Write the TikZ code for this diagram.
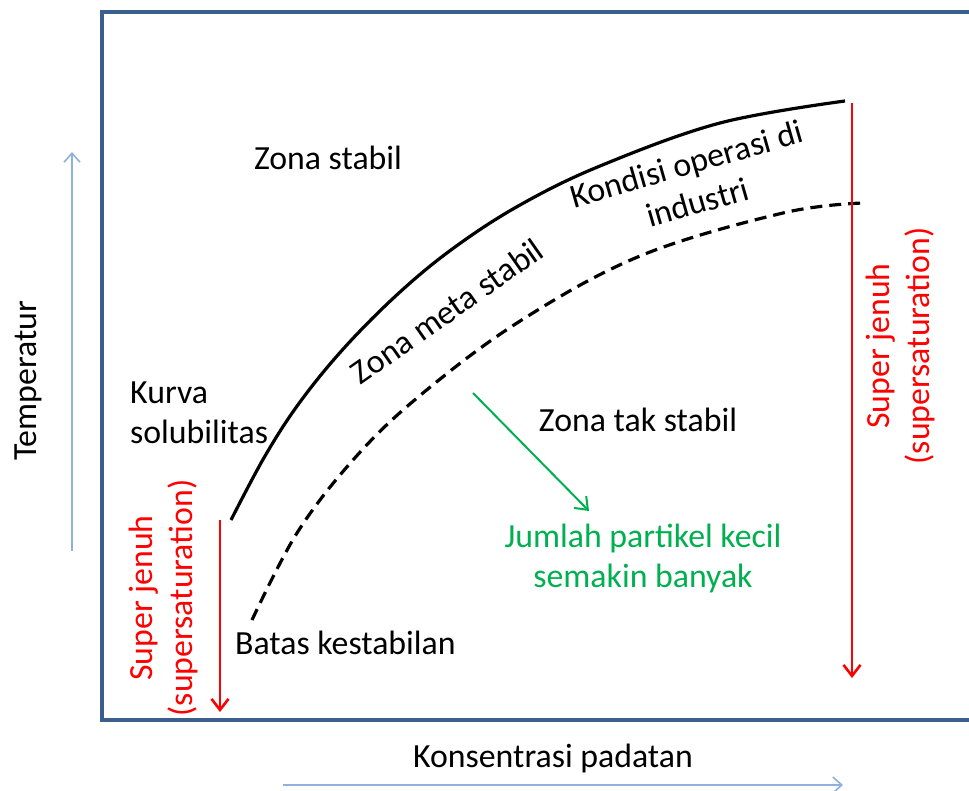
\documentclass[tikz,border=0pt]{standalone}
\usepackage{fontspec}
\setmainfont{Carlito}
\usetikzlibrary{arrows.meta}
\definecolor{frameblue}{HTML}{3B5F8C}
\definecolor{axisblue}{HTML}{8FB1DB}
\definecolor{supred}{HTML}{FF0000}
\definecolor{zonegreen}{HTML}{00B050}
\begin{document}
\begin{tikzpicture}[x=1pt,y=-1pt,
  every node/.style={font=\fontsize{33.8}{40}\selectfont, inner sep=0pt},
  frame/.style={draw=frameblue, line width=4pt},
  axisarrow/.style={draw=axisblue, line width=1.6pt, -{Straight Barb[length=9pt,width=16pt]}},
  redarrow/.style={draw=supred, line width=2.6pt, -{Straight Barb[length=11pt,width=17pt]}},
  greenarrow/.style={draw=zonegreen, line width=2pt, -{Straight Barb[length=11pt,width=17pt]}},
  curve/.style={line width=3.2pt},
  label/.style={align=center},
  redlabel/.style={align=center, text=supred, rotate=90},
]
\useasboundingbox (0,0) rectangle (969,791);

% diagram frame (open on the right)
\draw[frame] (975,12) -- (102,12) -- (102,720) -- (975,720);

% axes
\coordinate (ybot) at (72,551);
\coordinate (ytop) at (72,152);
\draw[axisarrow] (ybot) -- (ytop);
\node[rotate=90] (temp) at (28,381) {Temperatur};

\coordinate (xleft) at (283,785);
\coordinate (xright) at (843,785);
\draw[axisarrow] (xleft) -- (xright);
\node (konc) at (553,758) {Konsentrasi padatan};

% solubility curve and metastable limit
\draw[curve] plot[smooth, tension=0.6] coordinates
  {(231,520) (265,456) (300,402) (345,347) (400,292) (455,247) (520,205)
   (600,166) (720,123) (845,101)};
\draw[curve, dash pattern=on 12pt off 7pt] plot[smooth, tension=0.6] coordinates
  {(252,620) (297,533) (353,460) (417,398) (517,323) (640,256) (783,213) (863,203)};

% zone labels
\node (stabil) at (328,158) {Zona stabil};
\node[align=left, anchor=north west] (kurva) at (130,382) {Kurva\\solubilitas};
\node[anchor=west] (batas) at (235,643) {Batas kestabilan};
\node[rotate=35] (meta) at (447,311) {Zona meta stabil};
\node[label, rotate=16] (kondisi) at (692,183) {Kondisi operasi di\\industri};
\node (takstabil) at (638,420) {Zona tak stabil};
\node[label, text=zonegreen] (jumlah) at (643,558) {Jumlah partikel kecil\\semakin banyak};

% nucleation trend arrow
\coordinate (gstart) at (473,393);
\coordinate (gend) at (589,511);
\draw[greenarrow] (gstart) -- (gend);

% supersaturation arrows
\coordinate (lstart) at (220,520);
\coordinate (lend) at (220,712);
\draw[redarrow] (lstart) -- (lend);
\node[redlabel] (lsuper) at (163,598) {Super jenuh\\(supersaturation)};

\coordinate (rstart) at (852,103);
\coordinate (rend) at (852,678);
\draw[redarrow] (rstart) -- (rend);
\node[redlabel] (rsuper) at (900,346) {Super jenuh\\(supersaturation)};
\end{tikzpicture}
\end{document}
